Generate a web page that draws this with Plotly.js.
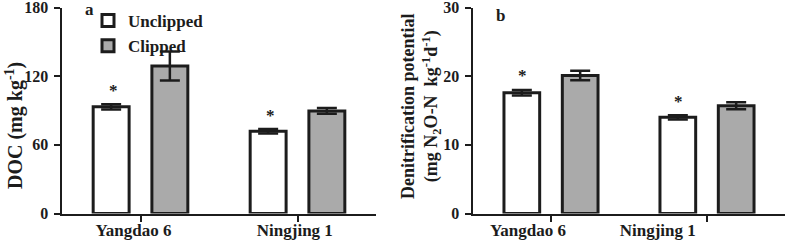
<!DOCTYPE html>
<html>
<head>
<meta charset="utf-8">
<script src="https://cdn.plot.ly/plotly-3.0.1.min.js"></script>
<style>html,body{margin:0;padding:0;background:#fff;}</style>
</head>
<body>
<div id="chart" style="width:787px;height:241px;"></div>
<script>
// ---- data ----
const categories = ["Yangdao 6", "Ningjing 1"];
const seriesNames = ["Unclipped", "Clipped"];
const docUnclipped = [93.2, 71.8];
const docUnclippedErr = [2.3, 2.0];
const docClipped = [128.9, 89.6];
const docClippedErr = [12.7, 2.5];
const denUnclipped = [17.6, 14.0];
const denUnclippedErr = [0.4, 0.3];
const denClipped = [20.1, 15.7];
const denClippedErr = [0.7, 0.5];
const sigA = ["*", "*"];   // significance marks over Unclipped bars, panel a
const sigB = ["*", "*"];   // panel b
const yTicksA = [0, 60, 120, 180];
const yTicksB = [0, 10, 20, 30];

// ---- styles ----
const FONT = "Liberation Serif, Times New Roman, serif";
const INK = "#1c1c1c";
const GRAY = "#aaaaaa";
const W = 787, H = 241;
const font = (size) => ({family: FONT, size: size, color: INK, weight: "bold"});

function barTrace(name, y, err, fill, xa, ya, showlegend) {
  return {
    type: "bar", name: name, x: categories, y: y,
    xaxis: xa, yaxis: ya, showlegend: showlegend, legendgroup: name,
    marker: {color: fill, line: {color: INK, width: 3}},
    error_y: {type: "data", array: err, visible: true, color: INK, thickness: 2.5, width: 10},
    hoverinfo: "skip"
  };
}

const data = [
  barTrace(seriesNames[0], docUnclipped, docUnclippedErr, "#ffffff", "x", "y", true),
  barTrace(seriesNames[1], docClipped, docClippedErr, GRAY, "x", "y", true),
  barTrace(seriesNames[0], denUnclipped, denUnclippedErr, "#ffffff", "x2", "y2", false),
  barTrace(seriesNames[1], denClipped, denClippedErr, GRAY, "x2", "y2", false),
  // empty traces so the label-only overlay axes are drawn
  {type: "scatter", x: [], y: [], xaxis: "x3", yaxis: "y", showlegend: false, hoverinfo: "skip"},
  {type: "scatter", x: [], y: [], xaxis: "x4", yaxis: "y2", showlegend: false, hoverinfo: "skip"}
];

const yDom = [(H - 213.5) / H, (H - 7.5) / H];
const xDomA = [62 / W, 376 / W];
const xDomB = [473 / W, 785 / W];

const baseX = {
  type: "category", categoryorder: "array", categoryarray: categories,
  range: [-0.5, 1.5], showgrid: false, zeroline: false,
  showline: true, linecolor: INK, linewidth: 2.5,
  ticks: "outside", ticklen: 6, tickwidth: 2, tickcolor: INK,
  showticklabels: false, fixedrange: true
};
const labelX = (overlay, dom, shiftA, shiftB) => ({
  type: "linear", overlaying: overlay, domain: dom, range: [-0.5, 1.5],
  showgrid: false, zeroline: false,
  showline: false, ticks: "", tickvals: [0 + shiftA, 1 + shiftB], ticktext: categories,
  tickfont: font(17), ticklabelstandoff: 4, fixedrange: true
});
const baseY = (range, vals) => ({
  domain: yDom, range: range, tickvals: vals, showgrid: false, zeroline: false,
  showline: true, linecolor: INK, linewidth: 2.5,
  ticks: "outside", ticklen: 6, tickwidth: 2, tickcolor: INK,
  tickfont: font(16), ticklabelstandoff: 2, ticklabeloverflow: "allow", fixedrange: true
});

const annotations = [];
// significance asterisks (above the Unclipped bars' error bars)
sigA.forEach((s, i) => annotations.push({
  xref: "x", yref: "y", x: i, y: docUnclipped[i] + docUnclippedErr[i], xshift: -27, yshift: 14,
  text: s, showarrow: false, font: font(17), xanchor: "center", yanchor: "middle"
}));
sigB.forEach((s, i) => annotations.push({
  xref: "x2", yref: "y2", x: i, y: denUnclipped[i] + denUnclippedErr[i], xshift: -29, yshift: 14,
  text: s, showarrow: false, font: font(17), xanchor: "center", yanchor: "middle"
}));
// panel letters
annotations.push({xref: "paper", yref: "paper", x: 89 / W, y: 1, text: "a",
  showarrow: false, font: font(17), xanchor: "center", yanchor: "top", yshift: 2});
annotations.push({xref: "paper", yref: "paper", x: 500 / W, y: 1 - 15 / H, text: "b",
  showarrow: false, font: font(17), xanchor: "center", yanchor: "middle"});
// y-axis titles
annotations.push({xref: "paper", yref: "paper", x: 14 / W, y: 1 - 126 / H,
  text: "DOC (mg kg<sup>-1</sup>)", textangle: -90, showarrow: false, font: font(20),
  xanchor: "center", yanchor: "middle"});
annotations.push({xref: "paper", yref: "paper", x: 421 / W, y: 1 - 106 / H,
  text: "Denitrification potential<br>(mg N<sub>2</sub>O-N  kg<sup>-1</sup>d<sup>-1</sup>)",
  textangle: -90, showarrow: false, font: font(18), xanchor: "center", yanchor: "middle"});

const layout = {
  width: W, height: H,
  margin: {l: 0, r: 0, t: 0, b: 0},
  paper_bgcolor: "#ffffff", plot_bgcolor: "#ffffff",
  barmode: "group", bargap: 0.252, bargroupgap: 0.388,
  showlegend: true,
  legend: {x: 88 / W, y: 1 - 3 / H, xanchor: "left", yanchor: "top",
    font: font(17), bgcolor: "rgba(0,0,0,0)", borderwidth: 0, tracegroupgap: 0,
    itemclick: false, itemdoubleclick: false},
  xaxis: Object.assign({}, baseX, {domain: xDomA, anchor: "y"}),
  xaxis2: Object.assign({}, baseX, {domain: xDomB, anchor: "y2"}),
  xaxis3: Object.assign(labelX("x", xDomA, -0.045, -0.017), {anchor: "y"}),
  xaxis4: Object.assign(labelX("x2", xDomB, -0.148, -0.316), {anchor: "y2"}),
  yaxis: Object.assign(baseY([0, 180], yTicksA), {anchor: "x"}),
  yaxis2: Object.assign(baseY([0, 30], yTicksB), {anchor: "x2"}),
  annotations: annotations
};

Plotly.newPlot("chart", data, layout, {displayModeBar: false, staticPlot: true});
</script>
</body>
</html>
